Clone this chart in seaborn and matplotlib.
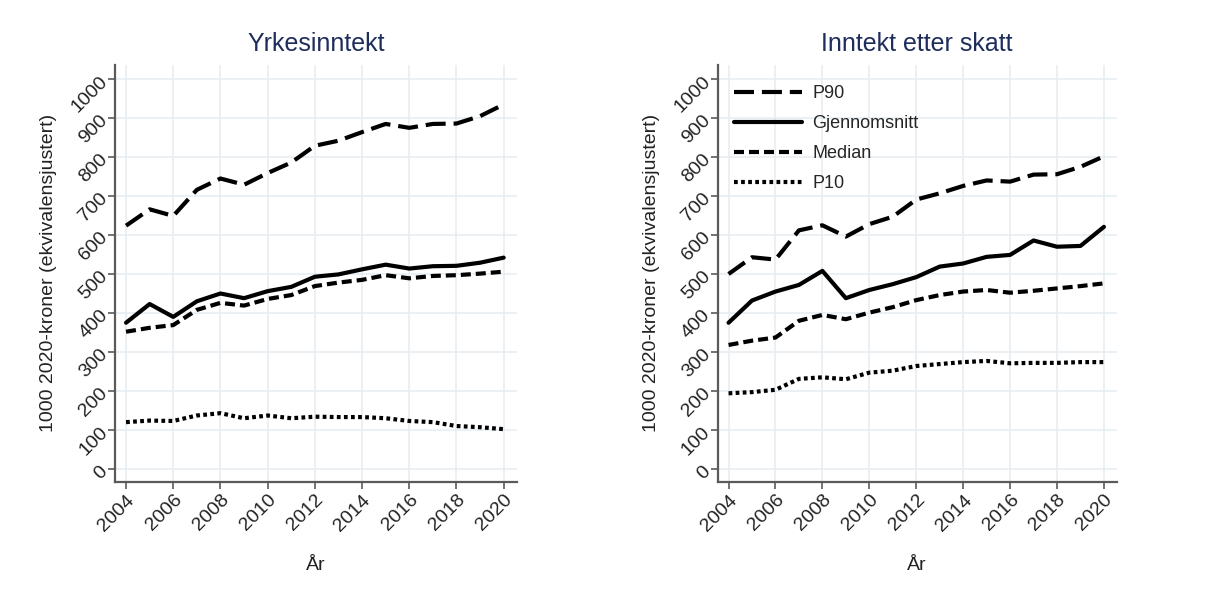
import matplotlib
matplotlib.use("Agg")
import matplotlib.pyplot as plt
import seaborn as sns
import pandas as pd

years = list(range(2004, 2021))

# Yrkesinntekt
yrk_p90 = [624, 666, 649, 716, 745, 729, 759, 786, 829, 842, 864, 885, 875, 885, 886, 905, 935]
yrk_mean = [375, 423, 390, 430, 450, 438, 456, 467, 493, 499, 512, 524, 514, 520, 521, 529, 542]
yrk_median = [352, 362, 369, 408, 426, 419, 436, 446, 469, 478, 485, 497, 489, 495, 497, 501, 506]
yrk_p10 = [120, 124, 123, 137, 143, 130, 137, 130, 134, 133, 133, 130, 123, 120, 110, 107, 102]

# Inntekt etter skatt
skatt_p90 = [500, 543, 537, 612, 625, 596, 628, 647, 691, 707, 726, 740, 737, 755, 756, 775, 802]
skatt_mean = [375, 432, 455, 472, 508, 438, 459, 474, 492, 519, 527, 544, 549, 586, 570, 572, 621]
skatt_median = [318, 329, 337, 380, 395, 384, 401, 415, 433, 446, 455, 459, 452, 457, 463, 469, 476]
skatt_p10 = [194, 197, 203, 231, 235, 230, 247, 252, 264, 269, 274, 277, 271, 272, 272, 274, 274]

series_names = ["P90", "Gjennomsnitt", "Median", "P10"]
panel_titles = ["Yrkesinntekt", "Inntekt etter skatt"]

def long_df(p90, mean, median, p10):
    rows = []
    for name, vals in zip(series_names, [p90, mean, median, p10]):
        for y, v in zip(years, vals):
            rows.append({"År": y, "Verdi": v, "Serie": name})
    return pd.DataFrame(rows)

dfs = [long_df(yrk_p90, yrk_mean, yrk_median, yrk_p10),
       long_df(skatt_p90, skatt_mean, skatt_median, skatt_p10)]

sns.set_theme(style="white")
plt.rcParams["font.family"] = ["Liberation Sans", "DejaVu Sans"]

dash_map = {"P90": (4.8, 1.9), "Gjennomsnitt": "", "Median": (2.4, 1.2), "P10": (0.9, 0.8)}

fig = plt.figure(figsize=(12.1, 5.97), dpi=100)
axes = [fig.add_axes([0.095, 0.193, 0.332, 0.698]),
        fig.add_axes([0.593, 0.193, 0.330, 0.698])]

grid_col = "#e6eef1"
spine_col = "#5a5a5a"
for i, ax in enumerate(axes):
    sns.lineplot(data=dfs[i], x="År", y="Verdi", style="Serie", style_order=series_names,
                 dashes=dash_map, color="black", linewidth=3.0, ax=ax, legend=(i == 1))
    ax.set_xlim(2003.53, 2020.55)
    ax.set_ylim(-33, 1036)
    ax.set_xticks(list(range(2004, 2021, 2)))
    ax.set_yticks(list(range(0, 1001, 100)))
    ax.grid(True, color=grid_col, linewidth=1.2)
    ax.set_axisbelow(True)
    for s in ["top", "right"]:
        ax.spines[s].set_visible(False)
    for s in ["left", "bottom"]:
        ax.spines[s].set_color(spine_col)
        ax.spines[s].set_linewidth(1.6)
    ax.tick_params(axis="both", which="both", direction="out", length=5, width=1.2,
                   color=spine_col, labelsize=14, labelcolor="#222222",
                   bottom=True, left=True, pad=2)
    for lab in ax.get_xticklabels():
        lab.set_rotation(45)
        lab.set_ha("right")
        lab.set_rotation_mode("anchor")
    for lab in ax.get_yticklabels():
        lab.set_rotation(45)
        lab.set_ha("right")
        lab.set_va("center")
        lab.set_rotation_mode("anchor")
    ax.set_xlabel("År", fontsize=14, color="#222222", labelpad=16)
    ax.set_ylabel("1000 2020-kroner (ekvivalensjustert)", fontsize=14, color="#222222", labelpad=8)
    ax.set_title(panel_titles[i], fontsize=18, color="#1f2d5c", pad=10)

leg_ax = axes[1]
handles, labels = leg_ax.get_legend_handles_labels()
leg_ax.legend(handles, labels, loc="upper left", frameon=False, fontsize=13,
              handlelength=3.8, handletextpad=0.55, labelspacing=0.72,
              bbox_to_anchor=(0.0, 0.99))

fig.savefig("out.png", dpi=100)
